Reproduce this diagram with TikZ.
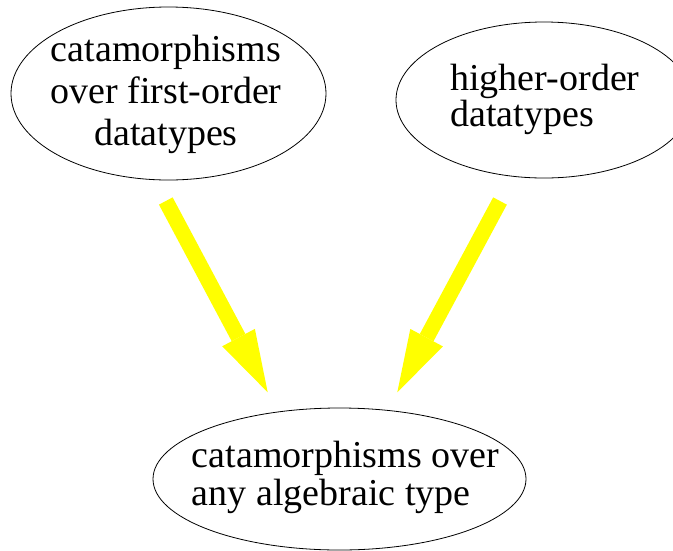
\documentclass[tikz,border=0pt]{standalone}
\usepackage{fontspec}
\setmainfont{Liberation Serif}
\usetikzlibrary{shapes.geometric,arrows.meta}
\tikzset{
  oval/.style={ellipse, draw=black, line width=0.8pt, inner sep=0pt},
  lbl/.style={inner sep=0pt, outer sep=0pt, text=black},
  bigarrow/.style={draw={rgb,255:red,255;green,255;blue,0}, line width=15.5pt, line cap=butt,
    -{Triangle[length=62pt, width=37pt, line width=0pt]}}
}
\begin{document}
\begin{tikzpicture}[x=1pt, y=-1pt]
  \useasboundingbox (0,0) rectangle (673,550);
  \clip (0,0) rectangle (673,550);
  % ellipses
  \node[oval, minimum width=315pt, minimum height=173pt] (n1) at (168.5,93.5) {};
  \node[oval, minimum width=296pt, minimum height=156pt] (n2) at (544,100) {};
  \node[oval, minimum width=373pt, minimum height=142pt] (n3) at (339.5,479) {};
  % texts
  \node[lbl, align=center, font={\fontsize{38}{42}\selectfont}] (t1) at (166,94.6)
    {catamorphisms\\over first-order\\datatypes};
  \node[lbl, align=left, font={\fontsize{38}{36}\selectfont}] (t2) at (545,99.1)
    {higher-order\\datatypes};
  \node[lbl, align=left, font={\fontsize{38}{38}\selectfont}] (t3) at (345.5,477.1)
    {catamorphisms over\\any algebraic type};
  % connector ends
  \coordinate (a1s) at (165.8,201);
  \coordinate (a1e) at (267.7,392.3);
  \coordinate (a2s) at (500,201);
  \coordinate (a2e) at (397.3,392.3);
  \draw[bigarrow] (a1s) -- (a1e);
  \draw[bigarrow] (a2s) -- (a2e);
\end{tikzpicture}
\end{document}
